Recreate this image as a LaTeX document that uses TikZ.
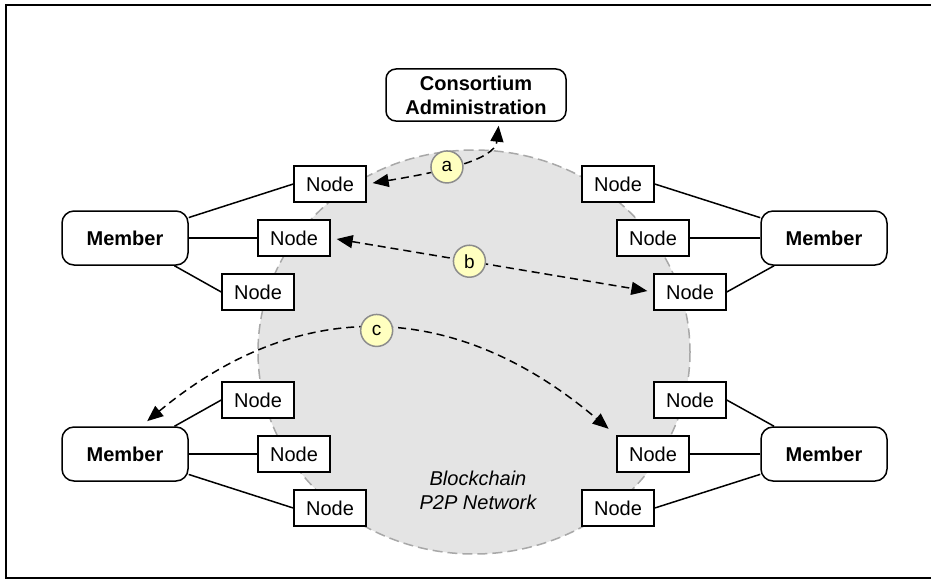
\documentclass[tikz,border=0pt]{standalone}
\usepackage{fontspec}
\setmainfont{Liberation Sans}
\usetikzlibrary{arrows.meta}
\definecolor{netgray}{HTML}{E4E4E4}
\definecolor{netline}{HTML}{A8A8A8}
\definecolor{lblfill}{HTML}{FFFFC0}
\definecolor{lblline}{HTML}{8C8C8C}
\begin{document}
\begin{tikzpicture}[x=0.5pt,y=-0.5pt,font=\fontsize{10}{12}\selectfont,
  member/.style={draw,line width=0.75pt,rounded corners=6pt,minimum width=63pt,minimum height=27pt,font=\fontsize{10}{12}\selectfont\bfseries},
  admin/.style={member,minimum width=90pt,minimum height=23pt,rounded corners=5pt,align=center},
  p2pnode/.style={draw,fill=white,line width=0.75pt,minimum width=36pt,minimum height=18pt,inner sep=0pt},
  link/.style={line width=0.75pt},
  flow/.style={line width=0.75pt,dash pattern=on 4pt off 2.5pt,{Triangle[length=8pt,width=6.5pt]}-{Triangle[length=8pt,width=6.5pt]}},
  lbl/.style={solid,circle,draw=lblline,fill=lblfill,line width=0.75pt,minimum size=16pt,inner sep=0pt,font=\fontsize{9.5}{10}\selectfont}]
\useasboundingbox(0,0)rectangle(931,580);
\draw[line width=1pt](6,5)rectangle(940,578);
\fill[netgray](474,352)ellipse[x radius=216,y radius=202];
\draw[netline,line width=0.75pt,dash pattern=on 5pt off 2.5pt](474,352)ellipse[x radius=216,y radius=202];
\node[align=center,font=\fontsize{10}{12}\selectfont\itshape](net)at(478,490){Blockchain\\P2P Network};
\node[admin](admin)at(476,95){Consortium\\Administration};
\node[member](mL1)at(125,238){Member};
\node[member](mR1)at(824,238){Member};
\node[member](mL2)at(125,454){Member};
\node[member](mR2)at(824,454){Member};
\node[p2pnode](nL1a)at(330,184){Node};
\node[p2pnode](nL1b)at(294,238){Node};
\node[p2pnode](nL1c)at(258,292){Node};
\node[p2pnode](nR1a)at(618,184){Node};
\node[p2pnode](nR1b)at(653,238){Node};
\node[p2pnode](nR1c)at(690,292){Node};
\node[p2pnode](nL2a)at(258,400){Node};
\node[p2pnode](nL2b)at(294,454){Node};
\node[p2pnode](nL2c)at(330,508){Node};
\node[p2pnode](nR2a)at(690,400){Node};
\node[p2pnode](nR2b)at(653,454){Node};
\node[p2pnode](nR2c)at(618,508){Node};
\foreach \m/\n in {mL1/nL1a,mL1/nL1b,mL1/nL1c,mL2/nL2a,mL2/nL2b,mL2/nL2c}
  \draw[link](\m)--(\n.west);
\foreach \m/\n in {mR1/nR1a,mR1/nR1b,mR1/nR1c,mR2/nR2a,mR2/nR2b,mR2/nR2c}
  \draw[link](\m)--(\n.east);
\draw[flow,shorten <=3pt,shorten >=2pt](nL1a.east)..controls(440,172)and(495,160)..([xshift=11.5pt]admin.south)node[lbl,pos=0.42]{a};
\draw[flow,shorten <=3pt,shorten >=3pt](nL1b.east)--(nR1c.west)node[lbl,pos=0.43]{b};
\draw[flow,shorten <=4pt,shorten >=5pt]([xshift=8pt]mL2.north)..controls(298,296)and(454,298)..(nR2b.north west)node[lbl,pos=0.5]{c};
\end{tikzpicture}
\end{document}
